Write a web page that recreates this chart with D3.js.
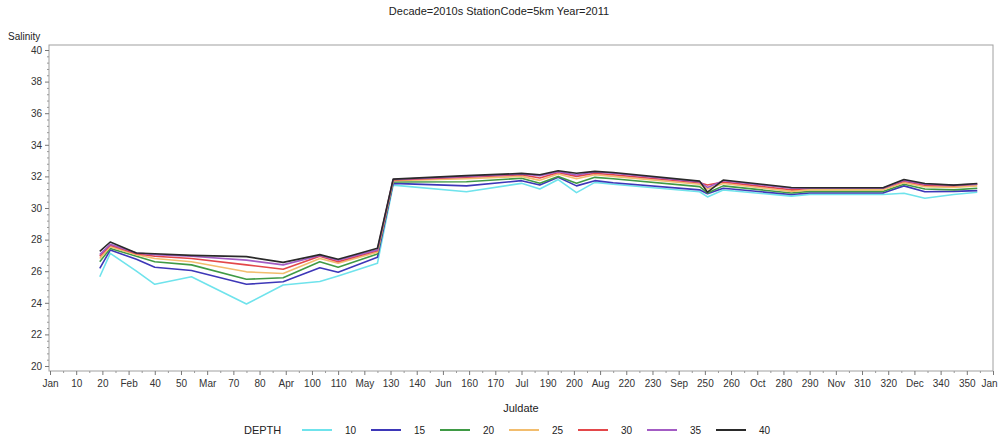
<!DOCTYPE html>
<html><head><meta charset="utf-8">
<script src="https://cdn.jsdelivr.net/npm/d3@7"></script>
<style>body{margin:0;background:#fff;} text{font-family:Arial,"Liberation Sans",sans-serif;}</style>
</head><body><svg id="c" width="998" height="438"></svg>
<script>
const days = [19, 23, 33, 40, 54, 75, 89, 103, 110, 125, 131, 159, 180, 187, 194, 201, 208, 215, 248, 251, 257, 283, 290, 318, 326, 334, 345, 354];
const depths = ["10", "15", "20", "25", "30", "35", "40"];
const colors = ["#6fe3ec", "#3d37b8", "#3f9a45", "#f2bd6e", "#e3474a", "#a35cc4", "#2a2a2a"];
const sal10 = [25.65, 27.13, 26.0, 25.17, 25.65, 23.92, 25.13, 25.35, 25.7, 26.5, 31.45, 31.03, 31.56, 31.2, 31.8, 30.97, 31.62, 31.5, 31.03, 30.7, 31.14, 30.75, 30.85, 30.85, 30.93, 30.62, 30.85, 31.0];
const sal15 = [26.18, 27.34, 26.75, 26.25, 26.04, 25.17, 25.33, 26.22, 25.93, 26.88, 31.56, 31.4, 31.73, 31.45, 31.94, 31.4, 31.73, 31.6, 31.15, 30.9, 31.25, 30.85, 30.95, 30.95, 31.4, 31.03, 31.05, 31.1];
const sal20 = [26.6, 27.44, 26.95, 26.6, 26.4, 25.49, 25.59, 26.6, 26.25, 27.09, 31.65, 31.66, 31.88, 31.56, 32.0, 31.56, 31.94, 31.85, 31.35, 30.95, 31.4, 30.95, 31.05, 31.05, 31.5, 31.2, 31.15, 31.25];
const sal25 = [26.8, 27.55, 27.05, 26.8, 26.6, 25.96, 25.85, 26.8, 26.5, 27.2, 31.72, 31.85, 32.0, 31.75, 32.15, 31.85, 32.1, 32.0, 31.5, 31.2, 31.55, 31.05, 31.15, 31.15, 31.6, 31.35, 31.3, 31.4];
const sal30 = [26.95, 27.65, 27.1, 26.95, 26.8, 26.4, 26.12, 26.95, 26.6, 27.3, 31.78, 31.95, 32.1, 31.9, 32.25, 32.0, 32.2, 32.1, 31.6, 31.45, 31.65, 31.15, 31.25, 31.25, 31.7, 31.45, 31.4, 31.5];
const sal35 = [27.05, 27.7, 27.15, 27.05, 26.95, 26.7, 26.4, 27.0, 26.7, 27.35, 31.8, 32.0, 32.15, 32.05, 32.3, 32.09, 32.28, 32.2, 31.65, 31.3, 31.72, 31.25, 31.25, 31.25, 31.75, 31.5, 31.45, 31.5];
const sal40 = [27.25, 27.85, 27.15, 27.1, 27.0, 26.92, 26.56, 27.05, 26.75, 27.45, 31.83, 32.05, 32.19, 32.1, 32.36, 32.2, 32.32, 32.25, 31.7, 31.0, 31.77, 31.3, 31.28, 31.28, 31.8, 31.55, 31.45, 31.55];
const series = [sal10, sal15, sal20, sal25, sal30, sal35, sal40];
const xTickValues = d3.range(0, 361, 10);
const monthLabels = {0:"Jan",30:"Feb",60:"Mar",90:"Apr",120:"May",150:"Jun",180:"Jul",210:"Aug",240:"Sep",270:"Oct",300:"Nov",330:"Dec",360:"Jan"};
const yTickValues = d3.range(20, 41, 2);

const svg = d3.select("#c");
const x = d3.scaleLinear().domain([0, 360]).range([50, 993]);
const y = d3.scaleLinear().domain([20, 40]).range([366, 50]);
const frame = {l:49, t:45, r:993, b:371};

svg.append("text").attr("x", 499).attr("y", 15).attr("text-anchor","middle")
  .attr("font-size", 11).attr("fill","#222").text("Decade=2010s StationCode=5km Year=2011");

svg.append("rect").attr("x", frame.l).attr("y", frame.t).attr("width", frame.r-frame.l).attr("height", frame.b-frame.t)
  .attr("fill","none").attr("stroke","#a0a0a0").attr("stroke-width",1);

// y axis
const gy = svg.append("g").attr("transform", `translate(${frame.l},0)`);
gy.call(d3.axisLeft(y).tickValues(yTickValues).tickSize(4).tickFormat(d3.format("d")));
gy.select(".domain").remove();
gy.selectAll(".tick line").attr("stroke","#777");
gy.selectAll(".tick text").attr("font-size", 10).attr("fill","#333").attr("font-family","Arial,'Liberation Sans',sans-serif");
const gym = svg.append("g").attr("transform", `translate(${frame.l},0)`);
gym.call(d3.axisLeft(y).tickValues(d3.range(20, 40.01, 0.4).filter(v => Math.abs(v/2 - Math.round(v/2)) > 0.01)).tickSize(2).tickFormat(""));
gym.select(".domain").remove();
gym.selectAll(".tick line").attr("stroke","#999");

// x axis
const gx = svg.append("g").attr("transform", `translate(0,${frame.b})`);
gx.call(d3.axisBottom(x).tickValues(xTickValues).tickSize(4).tickFormat(d => monthLabels[d] !== undefined ? monthLabels[d] : d));
gx.select(".domain").remove();
gx.selectAll(".tick line").attr("stroke","#777");
gx.selectAll(".tick text").attr("font-size", 10).attr("fill","#333").attr("dy","0.9em").attr("font-family","Arial,'Liberation Sans',sans-serif");
gx.selectAll(".tick").filter(d => d === 360).select("text").attr("text-anchor","end").attr("x", 4);
const gxm = svg.append("g").attr("transform", `translate(0,${frame.b})`);
gxm.call(d3.axisBottom(x).tickValues(d3.range(5, 360, 10)).tickSize(2).tickFormat(""));
gxm.select(".domain").remove();
gxm.selectAll(".tick line").attr("stroke","#999");

svg.append("text").attr("x", 8).attr("y", 40).attr("font-size", 10).attr("fill","#222").text("Salinity");
svg.append("text").attr("x", 521).attr("y", 412).attr("text-anchor","middle").attr("font-size", 11).attr("fill","#222").text("Juldate");

// lines
const line = d3.line().x((d,i) => x(days[i])).y(d => y(d));
svg.append("g").selectAll("path").data(series).join("path")
  .attr("d", d => line(d)).attr("fill","none")
  .attr("stroke", (d,i) => colors[i]).attr("stroke-width", 1.6).attr("stroke-linejoin","round");

// legend
svg.append("text").attr("x", 244).attr("y", 434).attr("font-size", 11).attr("fill","#222").text("DEPTH");
const legX = [302, 371, 440, 509, 578, 647, 716];
const lg = svg.append("g");
depths.forEach((dp, i) => {
  lg.append("line").attr("x1", legX[i]).attr("x2", legX[i]+30).attr("y1", 430).attr("y2", 430)
    .attr("stroke", colors[i]).attr("stroke-width", 2);
  lg.append("text").attr("x", legX[i]+43).attr("y", 434).attr("font-size", 10).attr("fill","#222").text(dp);
});
</script></body></html>
